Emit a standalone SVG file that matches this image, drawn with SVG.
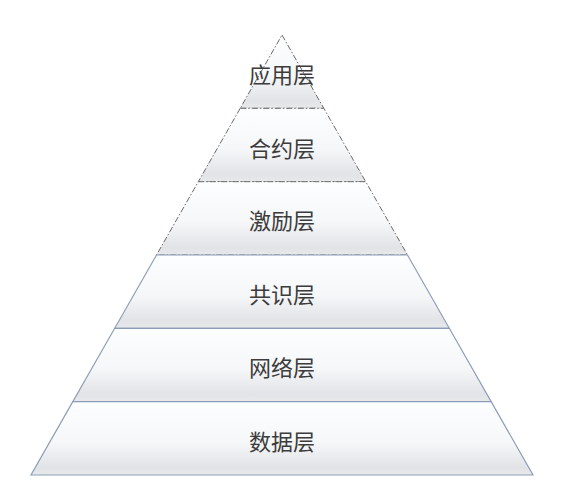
<svg xmlns="http://www.w3.org/2000/svg" width="568" height="497" viewBox="0 0 568 497">
<style>
.lbl{font-family:"Noto Sans CJK SC","Noto Sans CJK JP",sans-serif;font-size:22px;fill:#3c3c3c;text-anchor:middle;dominant-baseline:central}
.dash{fill:url(#g);stroke:#6a6a6a;stroke-width:1;stroke-dasharray:6 2 1.5 2}
.solid{fill:url(#g);stroke:#8b9db8;stroke-width:1.2}
</style>
<defs>
<linearGradient id="g" x1="0" y1="0" x2="0" y2="1">
<stop offset="0" stop-color="#fdfeff"/>
<stop offset="0.55" stop-color="#f6f7f9"/>
<stop offset="0.9" stop-color="#e2e3e6"/>
<stop offset="1" stop-color="#e8e9eb"/>
</linearGradient>
</defs>
<rect width="568" height="497" fill="#ffffff"/>
<g id="layer-app"><polygon class="dash" points="282,35 323.8,108.3 240.2,108.3"/><text class="lbl" x="282" y="73">应用层</text></g>
<g id="layer-contract"><polygon class="dash" points="240.2,108.3 323.8,108.3 365.7,181.7 198.3,181.7"/><text class="lbl" x="282" y="147">合约层</text></g>
<g id="layer-incentive"><polygon class="dash" points="198.3,181.7 365.7,181.7 407.5,255 156.5,255"/><text class="lbl" x="282" y="219">激励层</text></g>
<g id="layer-consensus"><polygon class="solid" points="156.5,255 407.5,255 449.3,328.3 114.7,328.3"/><text class="lbl" x="282" y="293">共识层</text></g>
<g id="layer-network"><polygon class="solid" points="114.7,328.3 449.3,328.3 491.2,401.7 72.8,401.7"/><text class="lbl" x="282" y="366">网络层</text></g>
<g id="layer-data"><polygon class="solid" points="72.8,401.7 491.2,401.7 533,475 31,475"/><text class="lbl" x="282" y="440">数据层</text></g>
<g id="connectors"></g>
</svg>
